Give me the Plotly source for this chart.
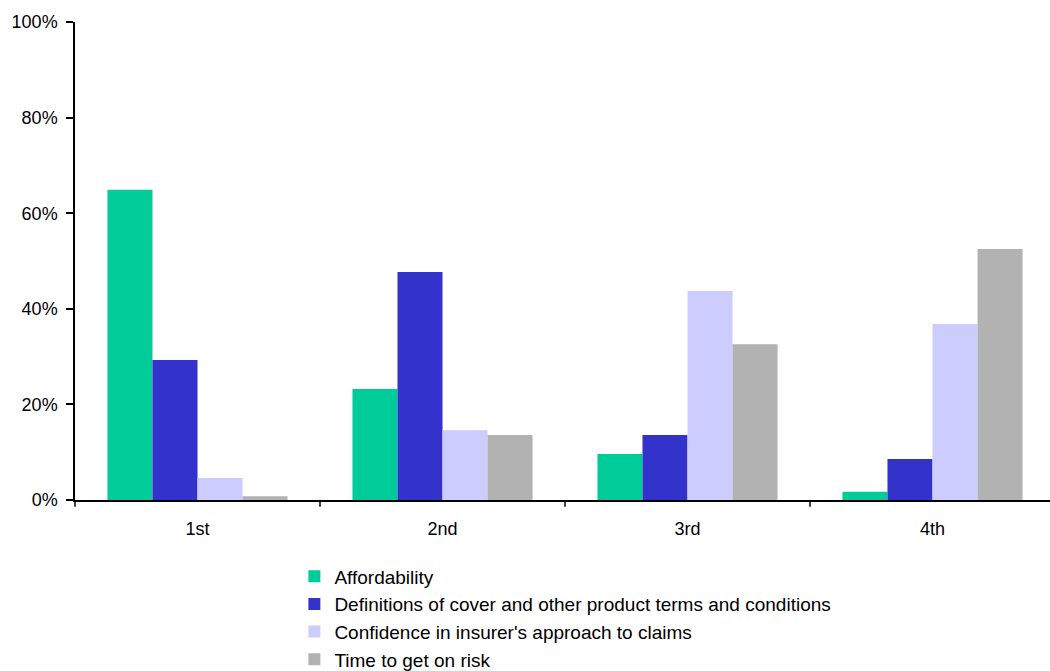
import plotly.graph_objects as go

categories = ["1st", "2nd", "3rd", "4th"]
affordability = [64.9, 23.2, 9.6, 1.7]
definitions = [29.3, 47.7, 13.6, 8.6]
confidence = [4.6, 14.6, 43.7, 36.8]
time_on_risk = [0.8, 13.6, 32.6, 52.5]

series = [
    ("Affordability", affordability, "#00CC99"),
    ("Definitions of cover and other product terms and conditions", definitions, "#3333CC"),
    ("Confidence in insurer's approach to claims", confidence, "#CCCCFF"),
    ("Time to get on risk", time_on_risk, "#B2B2B2"),
]

fig = go.Figure()
for name, vals, color in series:
    fig.add_trace(go.Bar(x=categories, y=vals, name=name,
                         marker=dict(color=color, line=dict(width=0))))

family = "Liberation Sans, Arial, sans-serif"
tick_font = dict(family=family, size=18, color="#000000")
legend_font = dict(family=family, size=19, color="#000000")

fig.update_layout(
    width=1050, height=671,
    margin=dict(l=75, r=0, t=22, b=171, autoexpand=False),
    paper_bgcolor="white", plot_bgcolor="white",
    font=tick_font,
    barmode="group", bargap=0.265, bargroupgap=0,
    showlegend=True,
    legend=dict(orientation="v", x=0.225, xanchor="left", y=-0.12, yanchor="top",
                font=legend_font, traceorder="normal", itemsizing="constant",
                tracegroupgap=0, itemwidth=30),
)
fig.update_xaxes(
    type="category", range=[-0.5, 3.5 - 5 / 245],
    showline=True, linecolor="black", linewidth=1.5,
    showgrid=False, ticks="", tickfont=tick_font,
    ticklabelstandoff=12,
)
fig.update_yaxes(
    range=[0, 100], tickvals=[0, 20, 40, 60, 80, 100],
    ticktext=["0%", "20%", "40%", "60%", "80%", "100%"],
    showline=True, linecolor="black", linewidth=1.5,
    ticks="outside", ticklen=7, tickcolor="black", tickwidth=1.5,
    showgrid=False, zeroline=False, tickfont=tick_font,
    ticklabelstandoff=5,
)
# category boundary tick marks along the x axis
for b in [0.5, 1.5, 2.5]:
    fig.add_shape(type="line", xref="x", yref="paper", x0=b, x1=b, y0=0, y1=-0.014,
                  line=dict(color="black", width=1.5))
fig.add_shape(type="line", xref="paper", yref="paper", x0=0, x1=0, y0=0, y1=-0.014,
              line=dict(color="black", width=1.5))

fig.write_html("out.html")
